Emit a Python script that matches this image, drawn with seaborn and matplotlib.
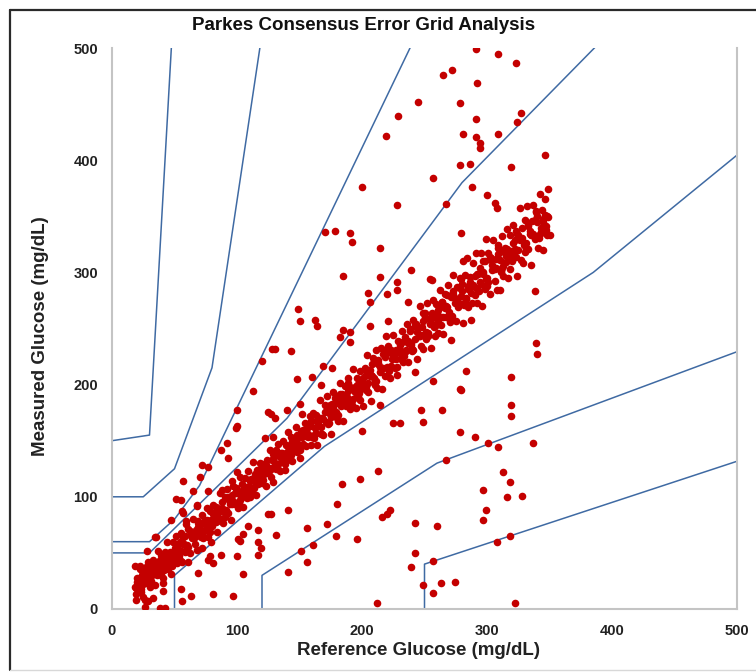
import matplotlib
matplotlib.use("Agg")
import matplotlib.pyplot as plt
import seaborn as sns
import pandas as pd
from matplotlib.lines import Line2D

# ---- Parkes zone boundary lines (reference, measured) ----
ab_upper_x = [0, 30, 140, 280, 430]
ab_upper_y = [50, 50, 170, 380, 550]
ab_lower_x = [50, 50, 170, 385, 550]
ab_lower_y = [0, 30, 145, 300, 450]
bc_upper_x = [0, 30, 50, 70, 260]
bc_upper_y = [60, 60, 80, 110, 550]
bc_lower_x = [120, 120, 260, 550]
bc_lower_y = [0, 30, 130, 250]
cd_upper_x = [0, 25, 50, 80, 125]
cd_upper_y = [100, 100, 125, 215, 550]
cd_lower_x = [250, 250, 550]
cd_lower_y = [0, 40, 150]
de_upper_x = [0, 30, 50]
de_upper_y = [150, 155, 550]

# ---- paired glucose readings (reference, measured) ----
band_pts_1 = [
    (18,20),(19,8),(20,28),(21,18),(22,36),(23,15),(24,29),(25,11),(26,26),(27,37),(28,23),
    (29,42),(30,20),(31,34),(32,30),(33,44),(34,21),(35,41),(36,30),(37,52),(38,39),(39,30),
    (40,42),(41,28),(42,51),(43,39),(44,60),(45,36),(46,51),(47,31),(48,48),(49,60),
    (50,45),(51,65),(52,41),(53,57),(54,52),(55,68),(56,42),(57,64),(58,51),(59,76),
    (60,57),(61,71),(62,50),(63,69),(64,63),(65,80),(66,58),(67,70),(68,53),(69,77),
    (70,71),(71,65),(72,84),(73,63),(74,79),(75,71),(76,90),(77,64),(78,87),(79,77),
    (80,74),(81,93),(82,81),(83,91),(84,69),(85,89),(86,103),(87,78),(88,90),(89,77),
    (90,100),(91,88),(92,107),(93,86),(94,94),(95,79),(96,102),(97,110),(98,94),(99,108),
    (100,103),(101,90),(102,118),(103,101),(104,111),(105,91),(106,117),(107,102),(108,109),(109,123),
    (110,100),(111,116),(112,104),(113,131),(114,113),(115,102),(116,124),(117,111),(118,130),(119,119),
    (120,129),(121,119),(122,124),(123,110),(124,133),(125,121),(126,142),(127,118),(128,133),(129,113),
    (130,130),(131,142),(132,127),(133,147),(134,123),(135,139),(136,134),(137,150),(138,124),(139,146),
    (140,133),(141,158),(142,139),(143,153),(144,132),(145,151),(146,145),(147,162),(148,140),(149,152),
    (150,135),(151,159),(152,153),(153,147),(154,166),(155,145),(156,161),(157,153),(158,172),(159,146),
    (160,153),(161,175),(162,161),(163,173),(164,146),(165,170),(166,186),(167,156),(168,170),(169,155),
    (170,182),(171,167),(172,190),(173,165),(174,174),(175,156),(176,183),(177,193),(178,173),(179,190),
    (180,184),(181,168),(182,201),(183,181),(184,192),(185,168),(186,199),(187,181),(188,189),(189,206),
    (190,178),(191,197),(192,182),(193,214),(194,193),(195,179),(196,206),(197,190),(198,212),(199,199),
    (200,203),(201,181),(202,215),(203,198),(204,226),(205,193),(206,213),(207,185),(208,208),(209,224),
    (210,202),(211,231),(212,197),(213,218),(214,211),(215,233),(216,196),(217,227),(218,208),(219,243),
    (220,216),(221,234),(222,206),(223,231),(224,223),(225,244),(226,215),(227,231),(228,209),(229,239),
    (230,231),(231,223),(232,248),(233,220),(234,240),(235,230),(236,254),(237,220),(238,250),(239,237),
    (240,232),(241,258),(242,241),(243,254),(244,223),(245,251),(246,270),(247,234),(248,251),(249,232),
    (250,264),(251,247),(252,273),(253,243),(254,254),(255,233),(256,264),(257,275),(258,252),(259,272),
    (260,264),(261,246),(262,284),(263,260),(264,274),(265,245),(266,281),(267,260),(268,269),(269,289),
    (270,256),(271,278),(272,261),(273,298),(274,273),(275,257),(276,287),(277,269),(278,295),(279,279),
    (280,283),(281,255),(282,298),(283,277),(284,313),(285,269),(286,296),(287,258),(288,288),(289,308),
    (290,280),(291,317),(292,273),(293,299),(294,291),(295,317),(296,270),(297,310),(298,285),(299,330),
    (300,295),(301,317),(302,281),(303,313),(304,302),(305,329),(306,292),(307,312),(308,284),(309,322),
    (310,311),(311,301),(312,332),(313,297),(314,322),(315,309),(316,339),(317,295),(318,333),(319,316),
    (320,310),(321,342),(322,321),(323,337),(324,297),(325,333),(326,357),(327,311),(328,331),(329,308),
    (330,347),(331,326),(332,359),(333,321),(334,334),(335,307),(336,346),(337,360),(338,330),(339,355),
    (340,345),(341,322),(342,370),(343,340),(344,356),(345,320),(346,365),(347,338),(348,350),(349,374),
    (350,333),
]
band_pts_2 = [
    (20.5,24.5),(23.5,17.5),(26.5,27.5),(29.5,26.5),(32.5,39.5),(35.5,34.5),(38.5,43.5),(41.5,34.5),
    (44.5,46.5),(47.5,43.5),(50.5,54.5),(53.5,47.5),(56.5,57.5),(59.5,56.5),(62.5,69.5),(65.5,64.5),
    (68.5,73.5),(71.5,64.5),(74.5,76.5),(77.5,73.5),(80.5,84.5),(83.5,77.5),(86.5,87.5),(89.5,86.5),
    (92.5,99.5),(95.5,94.5),(98.5,103.5),(101.5,94.5),(104.5,106.5),(107.5,103.5),(110.5,114.5),
    (113.5,107.5),(116.5,117.5),(119.5,116.5),(122.5,129.5),(125.5,124.5),(128.5,133.5),(131.5,124.5),
    (134.5,136.5),(137.5,133.5),(140.5,144.5),(143.5,137.5),(146.5,147.5),(149.5,146.5),(152.5,159.5),
    (155.5,154.5),(158.5,163.5),(161.5,152.5),(164.5,167.5),(167.5,162.5),(170.5,175.5),(173.5,165.5),
    (176.5,177.5),(179.5,175.5),(182.5,191.5),(185.5,184.5),(188.5,194.5),(191.5,182.5),(194.5,197.5),
    (197.5,192.5),(200.5,205.5),(203.5,195.5),(206.5,207.5),(209.5,205.5),(212.5,221.5),(215.5,214.5),
    (218.5,224.5),(221.5,212.5),(224.5,227.5),(227.5,222.5),(230.5,235.5),(233.5,225.5),(236.5,237.5),
    (239.5,235.5),(242.5,253.5),(245.5,243.5),(248.5,256.5),(251.5,240.5),(254.5,257.5),(257.5,251.5),
    (260.5,266.5),(263.5,253.5),(266.5,268.5),(269.5,264.5),(272.5,283.5),(275.5,273.5),(278.5,286.5),
    (281.5,270.5),(284.5,287.5),(287.5,281.5),(290.5,296.5),(293.5,283.5),(296.5,298.5),(299.5,294.5),
    (302.5,313.5),(305.5,303.5),(308.5,316.5),(311.5,300.5),(314.5,317.5),(317.5,311.5),(320.5,326.5),
    (323.5,313.5),(326.5,328.5),(329.5,324.5),(332.5,343.5),(335.5,333.5),(338.5,346.5),(341.5,330.5),
    (344.5,347.5),(347.5,341.5),
]
band_pts_3 = [
    (19,19),(22,26),(25,22),(28,35),(31,25),(34,35),(37,36),(40,46),(43,39),(46,49),(49,49),
    (52,56),(55,52),(58,65),(61,55),(64,65),(67,66),(70,76),(73,69),(76,79),(79,79),(82,86),
    (85,82),(88,95),(91,85),(94,95),(97,96),(100,106),(103,99),(106,109),(109,109),(112,116),
    (115,112),(118,125),(121,115),(124,125),(127,126),(130,136),(133,129),(136,139),(139,139),
    (142,146),(145,142),(148,155),(151,145),(154,155),(157,156),(160,168),(163,157),(166,170),
    (169,169),(172,178),(175,171),(178,188),(181,173),(184,186),(187,185),(190,198),(193,187),
    (196,200),(199,199),(202,208),(205,201),(208,218),(211,203),(214,216),(217,215),(220,228),
    (223,217),(226,230),(229,229),(232,238),(235,231),(238,248),(241,231),(244,247),(247,244),
    (250,260),(253,246),(256,261),(259,259),(262,269),(265,260),(268,280),(271,261),(274,277),
    (277,274),(280,290),(283,276),(286,291),(289,289),(292,299),(295,290),(298,310),(301,291),
    (304,307),(307,304),(310,320),(313,306),(316,321),(319,319),(322,329),(325,320),(328,340),
    (331,321),(334,337),(337,334),(340,350),(343,336),(346,351),(349,349),
]
band_pts_4 = [
    (21,18),(24,30),(27,29),(30,22),(33,38),(36,34),(39,48),(42,37),(45,45),(48,39),(51,48),
    (54,60),(57,59),(60,52),(63,68),(66,64),(69,78),(72,67),(75,75),(78,69),(81,78),(84,90),
    (87,89),(90,82),(93,98),(96,94),(99,108),(102,97),(105,105),(108,99),(111,108),(114,120),
    (117,119),(120,112),(123,128),(126,124),(129,138),(132,127),(135,135),(138,129),(141,138),
    (144,150),(147,149),(150,142),(153,158),(156,154),(159,168),(162,156),(165,165),(168,156),
    (171,167),(174,182),(177,179),(180,170),(183,189),(186,184),(189,201),(192,186),(195,195),
    (198,186),(201,197),(204,212),(207,209),(210,200),(213,219),(216,214),(219,231),(222,216),
    (225,225),(228,216),(231,227),(234,242),(237,239),(240,230),(243,251),(246,243),(249,264),
    (252,244),(255,255),(258,243),(261,256),(264,274),(267,270),(270,258),(273,281),(276,273),
    (279,294),(282,274),(285,285),(288,273),(291,286),(294,304),(297,300),(300,288),(303,311),
    (306,303),(309,324),(312,304),(315,315),(318,303),(321,316),(324,334),(327,330),(330,318),
    (333,341),(336,333),(339,354),(342,334),(345,345),(348,333),
]
upper_pts = [
    (291,499),(309,495),(323,487),(272,480),(265,476),(292,469),(278,451),(245,452),(229,439),
    (291,437),(327,442),(324,434),(219,422),(281,423),(291,421),(294,415),(294,411),(309,423),
    (278,396),(286,397),(346,405),(319,394),(257,384),(200,376),(288,376),(300,369),(228,360),
    (267,361),(306,362),(308,357),(170,336),(178,337),(190,335),(192,327),(214,322),(279,335),
    (185,297),(214,296),(239,302),(228,291),(228,284),(205,282),(220,281),(254,294),(281,310),
    (310,284),(338,283),(149,267),(150,257),(162,258),(164,252),(130,232),(143,230),(120,221),
    (206,274),(185,249),(182,242),(190,238),(206,252),(221,257),(237,274),(256,293),(148,205),
    (160,207),(167,200),(169,217),(176,215),(150,183),(127,174),(130,170),(140,177),(152,174),
    (122,152),(129,153),(113,194),(100,177),(125,176),(100,163),(128,232),(92,148),(99,161),
    (93,135),(87,142),(72,128),(77,127),(70,118),(57,114),(65,105),(77,105),(51,98),(55,97),
    (68,92),(56,87),(47,79),(59,78),(35,64),(28,52),(88,106),(100,122),(96,114),(190,247),
]
lower_pts = [
    (339,237),(340,227),(319,207),(283,212),(279,195),(319,182),(319,172),(247,177),(264,177),
    (249,167),(225,166),(230,166),(257,203),(214,182),(200,159),(278,158),(290,153),(301,148),
    (309,144),(337,148),(267,133),(213,123),(198,116),(184,111),(180,94),(216,82),(220,85),
    (222,88),(179,65),(196,62),(242,77),(260,74),(313,122),(318,113),(297,106),(316,100),
    (328,101),(299,88),(297,79),(318,65),(308,60),(242,50),(239,37),(257,43),(249,21),(263,23),
    (274,24),(257,14),(212,5),(322,5),(242,211),(278,196),(271,240),
    (109,74),(117,70),(101,62),(131,66),(125,85),(127,85),(141,88),(156,72),(117,60),(119,54),
    (117,48),(100,47),(87,48),(72,54),(77,44),(81,41),(61,42),(69,32),(105,31),(55,18),(63,12),
    (56,7),(81,13),(97,12),(141,33),(151,52),(156,42),(161,57),(172,76),(105,67),(102,61),
    (79,60),(78,47),(55,43),(48,38),
    (18,38),(22,38),(25,32),(20,24),(19,13),(26,8),(29,7),(26,2),(38,1),(42,1),(33,10),(41,23),
    (41,16),(34,64),(57,86),(68,93),
]

all_pts = band_pts_1 + band_pts_2 + band_pts_3 + band_pts_4 + upper_pts + lower_pts
df = pd.DataFrame(all_pts, columns=["reference", "measured"])

sns.set_style("white")
plt.rcParams["font.family"] = ["Liberation Sans", "DejaVu Sans"]

fig = plt.figure(figsize=(7.56, 6.72), dpi=100)
ax = fig.add_axes([112/756, 63/672, 625/756, 561/672])

line_color = "#3f6aa3"
for xs, ys in [(ab_upper_x, ab_upper_y), (ab_lower_x, ab_lower_y), (bc_upper_x, bc_upper_y),
               (bc_lower_x, bc_lower_y), (cd_upper_x, cd_upper_y), (cd_lower_x, cd_lower_y),
               (de_upper_x, de_upper_y)]:
    ax.plot(xs, ys, color=line_color, lw=1.1, zorder=2)

sns.scatterplot(data=df, x="reference", y="measured", color="#c40000", s=30,
                linewidth=0, ax=ax, zorder=3, legend=False)

ax.set_xlim(0, 500)
ax.set_ylim(0, 500)
ax.set_xticks([0, 100, 200, 300, 400, 500])
ax.set_yticks([0, 100, 200, 300, 400, 500])
for side in ["left", "bottom", "right"]:
    ax.spines[side].set_visible(True)
    ax.spines[side].set_color("#c4c4c4")
    ax.spines[side].set_linewidth(1.5)
ax.spines["top"].set_visible(False)
ax.tick_params(axis="both", direction="inout", length=6, width=1.2, color="#9a9a9a",
               labelsize=10.5, labelcolor="#222222")
for lab in ax.get_xticklabels() + ax.get_yticklabels():
    lab.set_fontweight("bold")
ax.tick_params(axis="x", pad=8)
ax.tick_params(axis="y", pad=7)
ax.set_xlabel("Reference Glucose (mg/dL)", fontsize=13.5, fontweight="bold", color="#222222")
ax.set_ylabel("Measured Glucose (mg/dL)", fontsize=13.5, fontweight="bold", color="#222222")
ax.xaxis.set_label_coords(0.49, -0.058)
ax.yaxis.set_label_coords(-0.1, 0.487)

fig.text(364/756, 1 - 25/672, "Parkes Consensus Error Grid Analysis", ha="center", va="center",
         fontsize=13.5, fontweight="bold", color="#111111")

# outer frame
fig.add_artist(Line2D([10/756, 10/756], [1 - 670/672, 1 - 10/672], transform=fig.transFigure,
                      color="#2a2a2a", lw=1.6))
fig.add_artist(Line2D([10/756, 1.0], [1 - 10/672, 1 - 10/672], transform=fig.transFigure,
                      color="#2a2a2a", lw=1.6))
fig.add_artist(Line2D([10/756, 1.0], [1 - 670/672, 1 - 670/672], transform=fig.transFigure,
                      color="#d8d8d8", lw=1.0))

fig.savefig("out.png", dpi=100)
